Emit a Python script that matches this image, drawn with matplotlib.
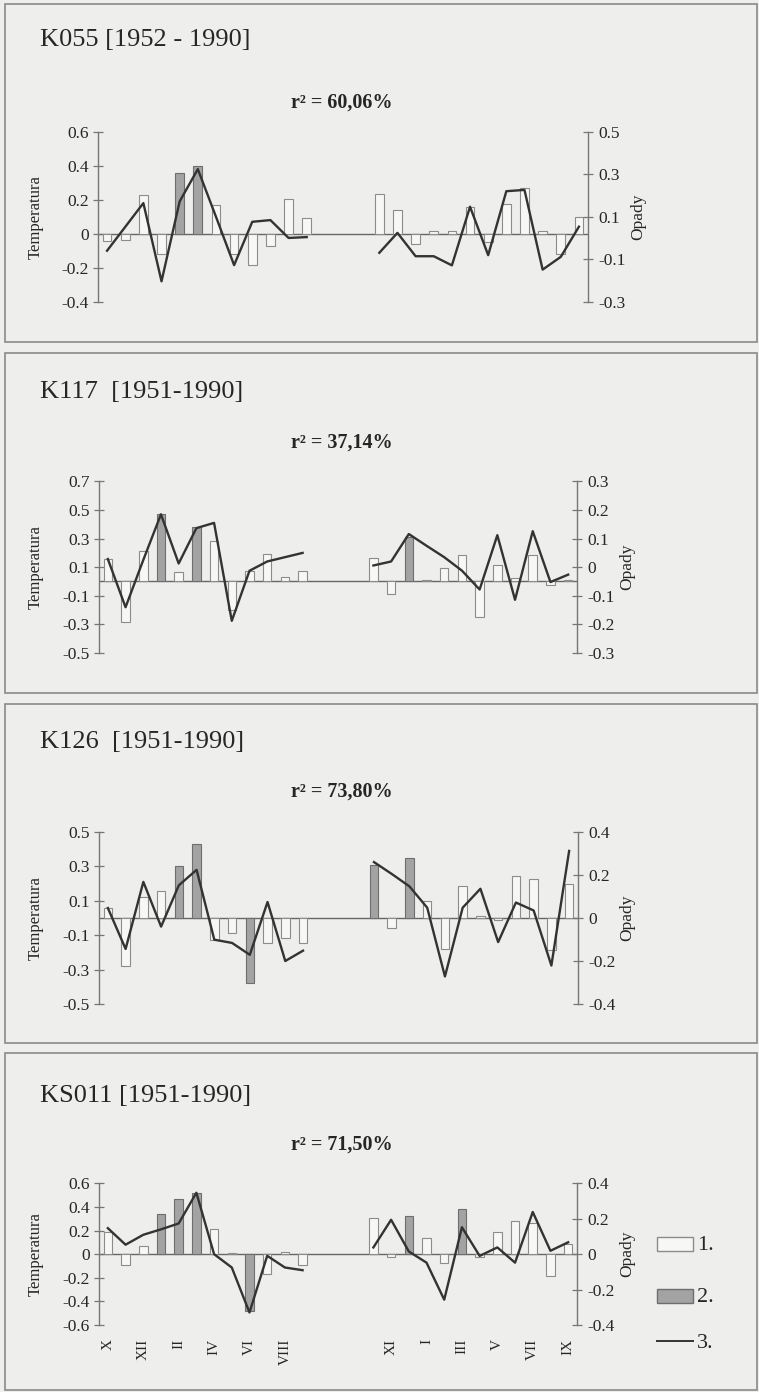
import matplotlib
matplotlib.use("Agg")
import matplotlib.pyplot as plt
from matplotlib.patches import Rectangle
from matplotlib.lines import Line2D

plt.rcParams['font.family'] = ['Liberation Serif', 'DejaVu Serif']

# ---------------------------------------------------------------- data
# category slots: 12 temperature months, 3 empty slots, 12 precipitation months
temp_pos = list(range(0, 12))
prec_pos = list(range(15, 27))
month_labels = ["X", "XI", "XII", "I", "II", "III", "IV", "V", "VI", "VII", "VIII", "IX"]

# K055 [1952 - 1990]
k055_temp_bars = [-0.04, -0.035, 0.225, -0.12, 0.36, 0.40, 0.17, -0.12, -0.185, -0.07, 0.205, 0.095]
k055_temp_sig = [0, 0, 0, 0, 1, 1, 0, 0, 0, 0, 0, 0]
k055_temp_line = [-0.10, 0.04, 0.18, -0.28, 0.19, 0.38, 0.10, -0.185, 0.07, 0.08, -0.025, -0.02]
k055_prec_bars = [0.232, 0.141, -0.058, 0.014, 0.014, 0.158, -0.05, 0.174, 0.27, 0.014, -0.12, 0.097]
k055_prec_sig = [0, 0, 0, 0, 0, 0, 0, 0, 0, 0, 0, 0]
k055_prec_line = [-0.07, 0.024, -0.086, -0.086, -0.129, 0.147, -0.081, 0.22, 0.226, -0.149, -0.089, 0.053]

# K117 [1951-1990]
k117_temp_bars = [0.157, -0.28, 0.215, 0.47, 0.063, 0.378, 0.28, -0.2, 0.075, 0.19, 0.033, 0.07]
k117_temp_sig = [0, 0, 0, 1, 0, 1, 0, 0, 0, 0, 0, 0]
k117_temp_line = [0.157, -0.18, 0.15, 0.47, 0.126, 0.373, 0.41, -0.275, 0.075, 0.14, 0.17, 0.2]
k117_prec_bars = [0.163, -0.089, 0.308, 0.007, 0.093, 0.186, -0.25, 0.112, 0.023, 0.186, -0.023, 0.01]
k117_prec_sig = [0, 0, 1, 0, 0, 0, 0, 0, 0, 0, 0, 0]
k117_prec_line = [0.006, 0.02, 0.116, 0.075, 0.035, -0.012, -0.078, 0.112, -0.114, 0.126, -0.052, -0.026]

# K126 [1951-1990]
k126_temp_bars = [0.058, -0.28, 0.12, 0.155, 0.305, 0.433, -0.126, -0.087, -0.379, -0.146, -0.117, -0.146]
k126_temp_sig = [0, 0, 0, 0, 1, 1, 0, 0, 1, 0, 0, 0]
k126_temp_line = [0.058, -0.18, 0.21, -0.05, 0.19, 0.28, -0.126, -0.145, -0.214, 0.093, -0.25, -0.19]
k126_prec_bars = [0.31, -0.058, 0.346, 0.097, -0.18, 0.184, 0.01, -0.01, 0.247, 0.227, -0.184, 0.2]
k126_prec_sig = [1, 0, 1, 0, 0, 0, 0, 0, 0, 0, 0, 0]
k126_prec_line = [0.26, 0.205, 0.147, 0.048, -0.272, 0.048, 0.136, -0.112, 0.072, 0.035, -0.221, 0.312]

# KS011 [1951-1990]
ks011_temp_bars = [0.19, -0.09, 0.07, 0.34, 0.466, 0.52, 0.21, 0.01, -0.48, -0.164, 0.02, -0.093]
ks011_temp_sig = [0, 0, 0, 1, 1, 1, 0, 0, 1, 0, 0, 0]
ks011_temp_line = [0.22, 0.08, 0.164, 0.21, 0.26, 0.52, 0.0, -0.113, -0.494, -0.014, -0.113, -0.136]
ks011_prec_bars = [0.305, -0.023, 0.325, 0.141, -0.079, 0.381, -0.023, 0.184, 0.277, 0.26, -0.184, 0.09]
ks011_prec_sig = [0, 0, 1, 0, 0, 1, 0, 0, 0, 0, 0, 0]
ks011_prec_line = [0.038, 0.194, 0.015, -0.048, -0.257, 0.152, -0.01, 0.038, -0.048, 0.238, 0.019, 0.067]

titles = ["K055 [1952 - 1990]", "K117  [1951-1990]", "K126  [1951-1990]", "KS011 [1951-1990]"]
r2_texts = ["r² = 60,06%", "r² = 37,14%", "r² = 73,80%", "r² = 71,50%"]
temp_ticks = [[-0.4, -0.2, 0, 0.2, 0.4, 0.6],
              [-0.5, -0.3, -0.1, 0.1, 0.3, 0.5, 0.7],
              [-0.5, -0.3, -0.1, 0.1, 0.3, 0.5],
              [-0.6, -0.4, -0.2, 0, 0.2, 0.4, 0.6]]
prec_ticks = [[-0.3, -0.1, 0.1, 0.3, 0.5],
              [-0.3, -0.2, -0.1, 0, 0.1, 0.2, 0.3],
              [-0.4, -0.2, 0, 0.2, 0.4],
              [-0.4, -0.2, 0, 0.2, 0.4]]
legend_labels = ["1.", "2.", "3."]

series = [
    (k055_temp_bars, k055_temp_sig, k055_temp_line, k055_prec_bars, k055_prec_sig, k055_prec_line),
    (k117_temp_bars, k117_temp_sig, k117_temp_line, k117_prec_bars, k117_prec_sig, k117_prec_line),
    (k126_temp_bars, k126_temp_sig, k126_temp_line, k126_prec_bars, k126_prec_sig, k126_prec_line),
    (ks011_temp_bars, ks011_temp_sig, ks011_temp_line, ks011_prec_bars, ks011_prec_sig, ks011_prec_line),
]

# ---------------------------------------------------------------- layout (pixels)
W, H = 759, 1392
BG = '#eeeeec'
AXC = '#767676'
LINEC = '#333333'
TXT = '#262626'
WHITE_FILL, WHITE_EDGE = '#f7f7f5', '#8c8c8c'
GRAY_FILL, GRAY_EDGE = '#a3a3a3', '#6e6e6e'

# box (top, bottom), plot area x-range, y-range, title y, r2 y
layout = [
    dict(box=(4, 342), ax_x=(98, 588), ax_y=(131.7, 301.7), title_y=40, r2_y=103, ylab_x=36, oplab_x=638),
    dict(box=(353, 693), ax_x=(99, 577), ax_y=(481.4, 653), title_y=392, r2_y=443, ylab_x=36, oplab_x=627),
    dict(box=(704, 1043), ax_x=(99, 578), ax_y=(832, 1004), title_y=742, r2_y=792, ylab_x=36, oplab_x=627),
    dict(box=(1053, 1390), ax_x=(99, 577), ax_y=(1183.3, 1325), title_y=1096, r2_y=1145, ylab_x=36, oplab_x=627),
]

fig = plt.figure(figsize=(W / 100, H / 100), dpi=100)
fig.patch.set_facecolor(BG)


def fx(px):
    return px / W


def fy(py):
    return 1 - py / H


def fmt(v):
    return "0" if abs(v) < 1e-9 else f"{v:.1f}"


for i, (lay, data) in enumerate(zip(layout, series)):
    t_bars, t_sig, t_line, p_bars, p_sig, p_line = data
    top, bot = lay['box']
    fig.add_artist(Rectangle((fx(5), fy(bot)), fx(752), (bot - top) / H,
                             transform=fig.transFigure, fill=False,
                             edgecolor='#8a8a8a', linewidth=1.2))

    x0, x1 = lay['ax_x']
    y0, y1 = lay['ax_y']
    ax = fig.add_axes([fx(x0), fy(y1), (x1 - x0) / W, (y1 - y0) / H])
    ax.set_facecolor('none')
    ax.set_xlim(-0.5, 26.5)
    tt = temp_ticks[i]
    ax.set_ylim(tt[0], tt[-1])
    for s in ('top', 'bottom', 'right'):
        ax.spines[s].set_visible(False)
    ax.spines['left'].set_color(AXC)
    ax.spines['left'].set_linewidth(1.0)
    ax.set_yticks(tt)
    ax.set_yticklabels([fmt(v) for v in tt])
    ax.tick_params(axis='y', direction='inout', length=7, width=0.9, color=AXC,
                   labelsize=12.5, pad=3, labelcolor=TXT)

    ax.axhline(0, color='#666666', linewidth=1.0, zorder=1)

    ax.bar(temp_pos, t_bars, width=0.48,
           color=[GRAY_FILL if s else WHITE_FILL for s in t_sig],
           edgecolor=[GRAY_EDGE if s else WHITE_EDGE for s in t_sig],
           linewidth=0.8, zorder=2)
    ax.bar(prec_pos, p_bars, width=0.48,
           color=[GRAY_FILL if s else WHITE_FILL for s in p_sig],
           edgecolor=[GRAY_EDGE if s else WHITE_EDGE for s in p_sig],
           linewidth=0.8, zorder=2)
    ax.plot(temp_pos, t_line, color=LINEC, linewidth=1.7, zorder=3)

    ax2 = ax.twinx()
    pt = prec_ticks[i]
    ax2.set_ylim(pt[0], pt[-1])
    for s in ('top', 'bottom', 'left'):
        ax2.spines[s].set_visible(False)
    ax2.spines['right'].set_color(AXC)
    ax2.spines['right'].set_linewidth(1.0)
    ax2.set_yticks(pt)
    ax2.set_yticklabels([fmt(v) for v in pt])
    ax2.tick_params(axis='y', direction='inout', length=7, width=0.9, color=AXC,
                    labelsize=12.5, pad=4, labelcolor=TXT)
    ax2.plot(prec_pos, p_line, color=LINEC, linewidth=1.7, zorder=3)

    if i == 3:
        xt = temp_pos[::2] + prec_pos[1::2]
        xl = month_labels[::2] + month_labels[1::2]
        ax.set_xticks(xt)
        ax.set_xticklabels(xl, rotation=90, fontsize=11, color=TXT)
        ax.tick_params(axis='x', length=0, pad=10)
    else:
        ax.set_xticks([])

    ymid = (y0 + y1) / 2
    fig.text(fx(lay['ylab_x']), fy(ymid), "Temperatura", rotation=90,
             ha='center', va='center', fontsize=12, color=TXT)
    fig.text(fx(lay['oplab_x']), fy(ymid), "Opady", rotation=90,
             ha='center', va='center', fontsize=12.5, color=TXT)
    fig.text(fx(40), fy(lay['title_y']), titles[i], ha='left', va='center',
             fontsize=19, color=TXT)
    fig.text(fx(342), fy(lay['r2_y']), r2_texts[i], ha='center', va='center',
             fontsize=14.5, fontweight='bold', color=TXT)

# legend in the last panel
fig.add_artist(Rectangle((fx(657), fy(1251)), 36 / W, 14 / H, transform=fig.transFigure,
                         facecolor=WHITE_FILL, edgecolor=WHITE_EDGE, linewidth=1.0))
fig.add_artist(Rectangle((fx(657), fy(1303)), 36 / W, 14 / H, transform=fig.transFigure,
                         facecolor=GRAY_FILL, edgecolor=GRAY_EDGE, linewidth=1.0))
fig.add_artist(Line2D([fx(657), fx(693)], [fy(1341), fy(1341)], transform=fig.transFigure,
                      color=LINEC, linewidth=1.4))
for lab, yy in zip(legend_labels, [1246, 1298, 1343]):
    fig.text(fx(697), fy(yy), lab, ha='left', va='center', fontsize=16, color=TXT)

fig.savefig("out.png", dpi=100, facecolor=BG)
